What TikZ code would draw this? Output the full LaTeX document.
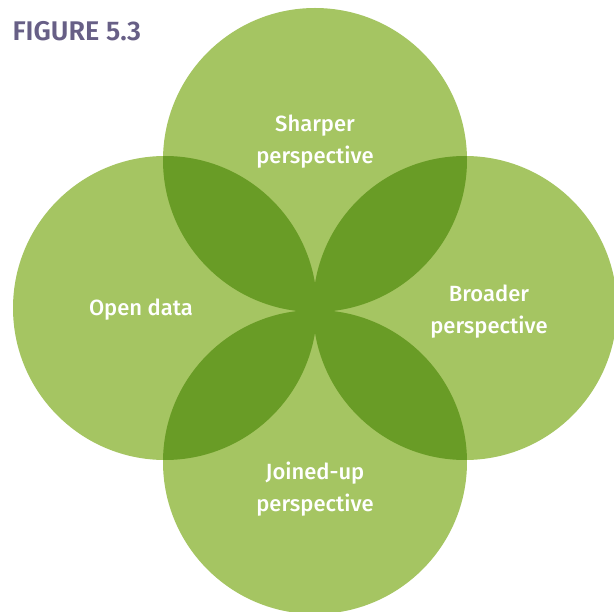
\documentclass[tikz,border=0pt]{standalone}
\usepackage{fontspec}
\setmainfont{Fira Sans}[UprightFont={* Medium},BoldFont={* SemiBold}]
\definecolor{leafgreen}{HTML}{A5C562}
\definecolor{darkgreen}{HTML}{699C26}
\definecolor{titlegray}{HTML}{675F86}
\tikzset{
  petal/.style={fill=leafgreen},
  label text/.style={text=white,align=center,font=\fontsize{22}{32}\selectfont}
}
\begin{document}
\begin{tikzpicture}[x=1pt,y=-1pt]
    \useasboundingbox (0,0) rectangle (614,612);
    \fill[petal] (315,160) circle (152);
    \fill[petal] (165,308) circle (152);
    \fill[petal] (465,308) circle (152);
    \fill[petal] (315,462) circle (152);
    % overlaps
    \begin{scope}
      \clip (315,160) circle (152);
      \fill[darkgreen] (165,308) circle (152);
      \fill[darkgreen] (465,308) circle (152);
    \end{scope}
    \begin{scope}
      \clip (315,462) circle (152);
      \fill[darkgreen] (165,308) circle (152);
      \fill[darkgreen] (465,308) circle (152);
    \end{scope}
    \node[label text] (sharper) at (315,142) {Sharper\\perspective};
    \node[label text] (open) at (141,310) {Open data};
    \node[label text] (broader) at (489,312) {Broader\\perspective};
    \node[label text] (joined) at (315,489) {Joined-up\\perspective};
    \node[anchor=west,text=titlegray,font=\fontsize{27}{30}\bfseries] (title) at (9,31) {FIGURE 5.3};
  \end{tikzpicture}
\end{document}
